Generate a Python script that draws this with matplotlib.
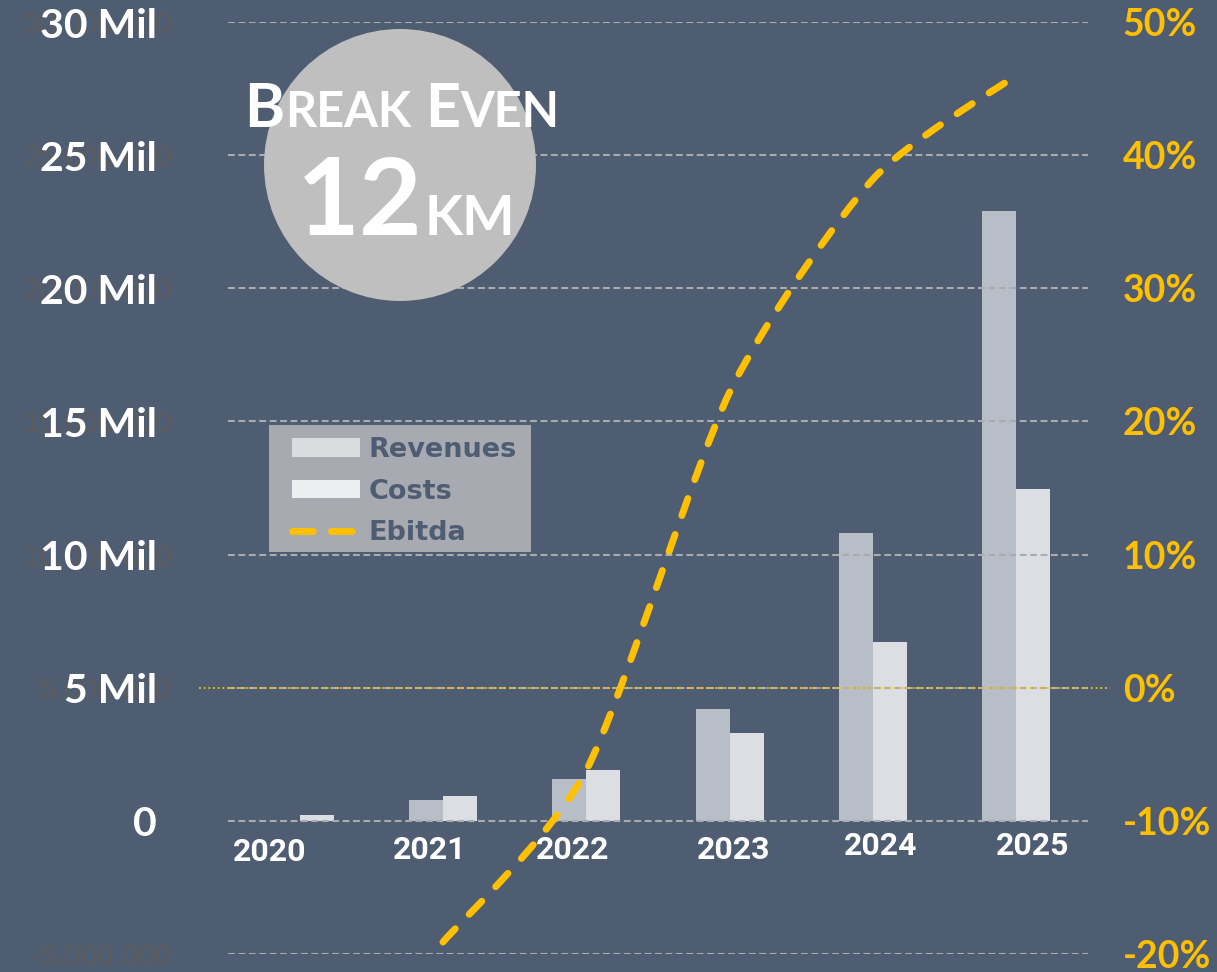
import matplotlib
matplotlib.use("Agg")
import matplotlib.pyplot as plt
import matplotlib.transforms as mtransforms
from matplotlib.patches import Patch, Ellipse, PathPatch, Rectangle
from matplotlib.lines import Line2D
from matplotlib.path import Path
import numpy as np

# ---------------- data ----------------
years = ["2020", "2021", "2022", "2023", "2024", "2025"]
revenues = [0.0, 0.79e6, 1.58e6, 4.2e6, 10.82e6, 22.9e6]
costs = [0.22e6, 0.94e6, 1.92e6, 3.3e6, 6.72e6, 12.47e6]
ebitda_years = ["2021", "2022", "2023", "2024", "2025"]
ebitda_pct = [-19.1, -6.2, 22.2, 38.2, 46.0]

left_ticks = [-5e6, 0, 5e6, 10e6, 15e6, 20e6, 25e6, 30e6]
left_raw_labels = ["-5.000.000", "", "5.000.000", "10.000.000", "15.000.000",
                   "20.000.000", "25.000.000", "30.000.000"]
left_short_labels = ["", "0", "5 Mil", "10 Mil", "15 Mil", "20 Mil", "25 Mil", "30 Mil"]
right_ticks = [-20, -10, 0, 10, 20, 30, 40, 50]
right_labels = ["-20%", "-10%", "0%", "10%", "20%", "30%", "40%", "50%"]

# ---------------- layout / style ----------------
W, H, DPI = 1217, 972, 100
BG = "#4F5D73"
REV_C = "#B8BEC8"
COST_C = "#DBDEE3"
YEL = "#FFC000"
GRID_C = "#A9ABAF"
year_dx_px = [-30, -13, -14, 4, 8, 16]
year_dy_px = [-31, -29, -29, -29, -25, -25]

fig = plt.figure(figsize=(W / DPI, H / DPI), dpi=DPI, facecolor=BG)
ax = fig.add_axes([228 / W, 18 / H, 860 / W, 932 / H])
ax.set_facecolor(BG)
ax2 = ax.twinx()
ax2.set_zorder(ax.get_zorder() + 1)
ax2.patch.set_visible(False)

x = np.arange(len(years))
bw = 34 / 143.3
ax.bar(x - bw / 2, revenues, width=bw, color=REV_C, edgecolor="none", zorder=1)
ax.bar(x + bw / 2, costs, width=bw, color=COST_C, edgecolor="none", zorder=1)

ax.set_xlim(-0.5, len(years) - 0.5)
ax.set_ylim(-5e6, 30e6)
ax2.set_ylim(-20, 50)

for a in (ax, ax2):
    for s in a.spines.values():
        s.set_visible(False)

ax.set_axisbelow(False)
ax.set_yticks(left_ticks)
ax.set_yticklabels(left_raw_labels)
ax.tick_params(axis="y", length=0, pad=40, labelsize=21.5, labelcolor="#5C5C5C")
for lab in ax.get_yticklabels():
    lab.set_fontfamily("Liberation Sans")
ax.set_xticks([])
ax.yaxis.grid(True, color=GRID_C, linewidth=1.5, linestyle=(0, (3.3, 1.7)))

ax2.set_yticks(right_ticks)
ax2.set_yticklabels(right_labels)
ax2.tick_params(axis="y", length=0, pad=25, labelsize=27, labelcolor=YEL)
for lab in ax2.get_yticklabels():
    lab.set_fontweight("bold")
    lab.set_fontfamily("Lato")

# zero-percent dotted line extending beyond plot
ax2.axhline(0, xmin=-0.034, xmax=1.026, color=YEL, linewidth=1.3,
            linestyle=(0, (1, 1.6)), clip_on=False, zorder=3)

# white short labels on left axis
trans_l = mtransforms.blended_transform_factory(ax.transAxes, ax.transData)
trans_l = mtransforms.offset_copy(trans_l, fig=fig, x=0, y=-4, units="dots")
for v, s in zip(left_ticks, left_short_labels):
    if s:
        ax.text((157 - 228) / 860, v, s, transform=trans_l, ha="right", va="center",
                fontsize=29.5, fontweight="bold", color="white", family="Lato",
                clip_on=False, zorder=5)

# year labels
for i, (yr, dx, dy) in enumerate(zip(years, year_dx_px, year_dy_px)):
    tr = mtransforms.offset_copy(ax.transData, fig=fig, x=dx, y=dy, units="dots")
    ax.text(i, 0, yr, transform=tr, ha="center", va="center", fontsize=23,
            fontweight="bold", color="white", family="Roboto", clip_on=False, zorder=5)

# Ebitda smoothed dashed line
ex = np.array([years.index(y) for y in ebitda_years], dtype=float)
ey = np.array(ebitda_pct, dtype=float)
pts = np.column_stack([ex, ey])
t = 0.12
verts = [pts[0]]
codes = [Path.MOVETO]
n = len(pts)
for i in range(n - 1):
    p_prev = pts[max(i - 1, 0)]
    p0 = pts[i]
    p1 = pts[i + 1]
    p_next = pts[min(i + 2, n - 1)]
    c1 = p0 + t * (p1 - p_prev)
    c2 = p1 - t * (p_next - p0)
    verts += [c1, c2, p1]
    codes += [Path.CURVE4] * 3
ebitda_path = Path(verts, codes)
pp = PathPatch(ebitda_path, transform=ax2.transData, fill=False, edgecolor=YEL,
               linewidth=5, linestyle=(0, (2.6, 2.9)), capstyle="round", zorder=6)
ax2.add_patch(pp)

# legend box
legbox = Rectangle((269 / W, 1 - 552 / H), 262 / W, 127 / H, transform=fig.transFigure,
                   facecolor="#A7AAB1", edgecolor="none", zorder=6, clip_on=False)
ax.add_artist(legbox)
handles = [Patch(facecolor="#DBDCDF", edgecolor="none"),
           Patch(facecolor="#EDEEF0", edgecolor="none"),
           Line2D([], [], color=YEL, linewidth=5, linestyle=(0, (3.0, 2.6)),
                  dash_capstyle="round")]
leg = ax.legend(handles, ["Revenues", "Costs", "Ebitda"], loc="upper left",
                bbox_to_anchor=(292 / W, 1 - 437 / H), bbox_transform=fig.transFigure,
                frameon=False, borderaxespad=0, borderpad=0,
                prop={"family": "DejaVu Sans", "weight": "bold", "size": 19.5},
                handlelength=2.5, handleheight=0.66, handletextpad=0.33, labelspacing=0.58)
for txt in leg.get_texts():
    txt.set_color("#4F5D73")
leg.set_zorder(7)

# Break-even circle
circ = Ellipse((400 / W, 1 - 165 / H), 272 / W, 272 / H, transform=fig.transFigure,
               facecolor="#BFBFBF", edgecolor="none", zorder=2)
fig.add_artist(circ)

fig.canvas.draw()
renderer = fig.canvas.get_renderer()


def caps_line(parts, cx, baseline_from_top):
    items = []
    total = 0
    for s, size, gap in parts:
        tx = fig.text(0, 0, s, fontsize=size, fontweight="bold", color="white",
                      family="Lato", ha="left", va="baseline", transform=None, zorder=3)
        w = tx.get_window_extent(renderer).width
        items.append((tx, w, gap))
        total += w + gap
    xcur = cx - total / 2
    yb = H - baseline_from_top
    for tx, w, gap in items:
        tx.set_position((xcur, yb))
        xcur += w + gap


caps_line([("B", 44, 1), ("REAK", 35, 13), ("E", 44, 1), ("VEN", 35, 0)], 402, 127)
caps_line([("12", 78, 2), ("KM", 40, 0)], 406, 235)

fig.savefig("out.png", dpi=DPI, facecolor=BG)
